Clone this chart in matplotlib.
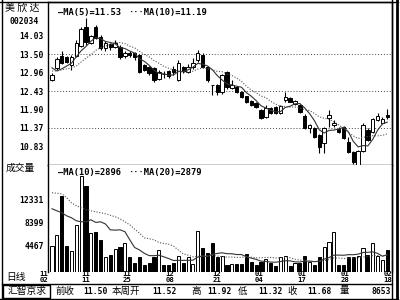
import matplotlib
matplotlib.use("Agg")
import matplotlib.pyplot as plt
import matplotlib.transforms as mtransforms
import numpy as np
import pandas as pd
from matplotlib.lines import Line2D
from matplotlib.patches import Rectangle

plt.rcParams['font.family'] = ['DejaVu Sans Mono', 'Noto Sans CJK SC']
CJK = ['Noto Sans CJK SC', 'DejaVu Sans']

# daily candles, 11/02 .. 02/18
opens = [12.75, 13.10, 13.44, 13.41, 13.18, 13.44, 13.72, 14.29, 13.83, 14.29,
         14.00, 13.66, 13.79, 13.70, 13.71, 13.44, 13.54, 13.53, 13.47, 13.18,
         13.12, 13.09, 12.78, 12.93, 13.00, 13.08, 12.75, 13.12, 12.99, 13.12,
         13.33, 13.47, 13.12, 12.60, 12.60, 12.40, 12.98, 12.52, 12.55, 12.40,
         12.28, 12.14, 12.08, 11.88, 11.68, 11.94, 11.97, 11.79, 12.17, 12.23,
         12.05, 12.03, 11.71, 11.36, 11.36, 11.16, 10.93, 11.65, 11.45, 11.33,
         11.39, 10.96, 10.67, 10.30, 10.70, 11.30, 11.25, 11.60, 11.52, 11.74]
highs = [12.95, 13.40, 13.59, 13.45, 13.46, 13.90, 14.28, 14.54, 14.06, 14.33,
         14.05, 13.88, 13.83, 13.90, 13.76, 13.58, 13.60, 13.56, 13.50, 13.22,
         13.15, 13.12, 13.04, 13.02, 13.05, 13.15, 13.33, 13.16, 13.20, 13.38,
         13.62, 13.52, 13.15, 12.61, 12.62, 12.92, 13.00, 12.75, 12.58, 12.43,
         12.30, 12.16, 12.10, 11.92, 12.03, 11.98, 12.00, 12.02, 12.40, 12.26,
         12.16, 12.06, 11.76, 11.48, 11.40, 11.18, 11.40, 11.88, 11.60, 11.38,
         11.42, 11.10, 10.70, 10.72, 11.50, 11.36, 11.66, 11.80, 11.67, 11.92]
lows = [12.72, 13.05, 13.21, 13.25, 13.04, 13.40, 13.70, 13.76, 13.80, 13.92,
        13.62, 13.60, 13.62, 13.66, 13.37, 13.38, 13.40, 13.33, 12.96, 13.00,
        12.90, 12.69, 12.74, 12.82, 12.80, 12.90, 12.72, 12.95, 12.96, 13.08,
        13.28, 13.10, 12.70, 12.32, 12.32, 12.35, 12.50, 12.48, 12.38, 12.24,
        12.08, 12.00, 11.95, 11.62, 11.65, 11.76, 11.76, 11.76, 12.12, 12.10,
        12.02, 11.80, 11.33, 11.22, 11.08, 10.64, 10.64, 11.38, 11.38, 11.22,
        11.05, 10.64, 10.33, 10.29, 10.66, 10.98, 11.22, 11.56, 11.48, 11.62]
closes = [12.89, 13.35, 13.24, 13.27, 13.42, 13.82, 14.22, 13.86, 14.02, 13.95,
          13.66, 13.83, 13.71, 13.82, 13.40, 13.53, 13.47, 13.41, 12.99, 13.04,
          12.95, 12.75, 12.98, 12.91, 12.86, 12.97, 13.25, 13.00, 13.13, 13.24,
          13.53, 13.12, 12.75, 12.59, 12.40, 12.89, 12.55, 12.60, 12.40, 12.26,
          12.11, 12.03, 11.97, 11.65, 11.94, 11.79, 11.79, 12.00, 12.26, 12.12,
          12.14, 11.82, 11.36, 11.45, 11.10, 10.81, 11.36, 11.74, 11.50, 11.25,
          11.07, 10.67, 10.38, 10.70, 11.45, 11.02, 11.62, 11.70, 11.63, 11.68]
volumes = [4420, 6260, 13000, 4420, 3610, 8040, 16370, 14770, 6710, 6880,
           5450, 2570, 2860, 3900, 4190, 4880, 2460, 1430, 2460, 1140,
           1430, 2460, 3730, 1140, 1140, 1540, 2690, 1430, 2570, 1310,
           6890, 4020, 3260, 4880, 2470, 2690, 1140, 1310, 1220, 1310,
           3040, 1710, 1140, 1710, 2120, 1430, 970, 2470, 2690, 970,
           1430, 1430, 2690, 1710, 1140, 2470, 4300, 5160, 6780, 1140,
           1140, 2470, 2580, 2690, 4020, 2860, 4880, 2600, 1900, 3730]

# moving-average values before a full window exists
ma5_head = [13.10, 13.01, 13.07, 13.15]
ma10_head = [13.01, 13.01, 13.04, 13.07, 13.10, 13.15, 13.27, 13.38, 13.47]
vma10_head = [10800, 10450, 10110, 9590, 9250, 8730, 8560, 8560, 8900]
vma20_head = [13560, 13470, 13390, 12700, 11830, 11320, 10970, 10630, 10450, 10280,
              10110, 9940, 9680, 9420, 9070, 8560, 8040, 7300, 6600]

date_labels = [("11", "02"), ("11", "11"), ("11", "25"), ("12", "08"), ("12", "21"),
               ("01", "04"), ("01", "17"), ("01", "28"), ("02", "18")]
date_pos = [-1.71, 6.85, 15.41, 24.28, 33.89, 42.53, 51.44, 60.35, 69.14]
price_ticks = [14.03, 13.50, 12.96, 12.43, 11.90, 11.37, 10.83]
price_grid = [13.50, 12.43, 11.37]
vol_ticks = [12331, 8399, 4467]

info = [("前收", 55), ("11.50", 83), ("本周开", 112), ("11.52", 152), ("高", 191),
        ("11.92", 207), ("低", 238), ("11.32", 258), ("收", 287), ("11.68", 307),
        ("量", 340)]


def ma(values, n, head):
    out = pd.Series(values, dtype=float).rolling(n).mean().to_numpy()
    out[:len(head)] = head
    return out


def fx(px):
    return px / 400


def fy(py):
    return 1 - py / 300


x = np.arange(len(closes))
o = np.array(opens)
c = np.array(closes)
up = c >= o

fig = plt.figure(figsize=(4, 3), dpi=100)
fig.patch.set_facecolor("white")
ax = fig.add_axes([fx(48), fy(165), fx(392) - fx(48), fy(2) - fy(165)])
ax2 = fig.add_axes([fx(48), fy(271.5), fx(392) - fx(48), fy(165) - fy(271.5)])

# price panel
ax.vlines(x, lows, highs, color="black", lw=0.8, zorder=2)
body = np.maximum(np.abs(c - o), 0.012)
ax.bar(x, body, bottom=np.minimum(o, c), width=0.7,
       color=np.where(up, "white", "black"), edgecolor="black", lw=0.7, zorder=3)
ax.plot(x, ma(closes, 5, ma5_head), color="#333333", lw=0.8, zorder=4)
ax.plot(x, ma(closes, 10, ma10_head), color="#555555", lw=0.8, ls=(0, (1, 1.5)), zorder=4)
for g in price_grid:
    ax.axhline(g, color="#444444", lw=0.7, ls=(0, (1, 2)), zorder=1)
ax.set_xlim(-0.82, 69.96)
ax.set_ylim(10.292, 15.003)
ax.set_yticks(price_ticks)
ax.set_yticklabels([f"{v:.2f}" for v in price_ticks])
ax.set_xticks([])

# volume panel
ax2.bar(x, volumes, width=0.64, color=np.where(up, "white", "black"),
        edgecolor="black", lw=0.7, zorder=2)
ax2.plot(x, ma(volumes, 10, vma10_head), color="#333333", lw=0.8, zorder=3)
ax2.plot(x, ma(volumes, 20, vma20_head), color="#555555", lw=0.8, ls=(0, (1, 1.5)), zorder=3)
ax2.set_xlim(-0.82, 69.96)
ax2.set_ylim(0, 18330)
ax2.set_yticks(vol_ticks)
ax2.set_yticklabels([str(v) for v in vol_ticks])
ax2.set_xticks([])

for a in (ax, ax2):
    a.tick_params(axis="y", length=0, pad=3, labelsize=5.8)
    for lab in a.get_yticklabels():
        lab.set_fontweight("bold")
    for s in a.spines.values():
        s.set_linewidth(1.0)
        s.set_color("black")
ax2.spines["top"].set_visible(False)
ax2.spines["bottom"].set_visible(False)

# date labels: month over day
date_tr = mtransforms.blended_transform_factory(ax2.transData, fig.transFigure)
for (m, d), p in zip(date_labels, date_pos):
    ax2.text(p, fy(273.5), m, transform=date_tr, clip_on=False,
             ha="center", va="center", fontsize=5.2, fontweight="bold")
    ax2.text(p, fy(280.5), d, transform=date_tr, clip_on=False,
             ha="center", va="center", fontsize=5.2, fontweight="bold")

# headers and legends
fig.text(fx(5), fy(9), "美 欣 达", family=CJK, fontsize=7.2, va="center", ha="left")
fig.text(fx(10), fy(21.5), "002034", fontsize=5.8, fontweight="bold", va="center", ha="left")
fig.text(fx(58), fy(12.5), "—MA(5)=11.53", fontsize=6.3, fontweight="bold", va="center")
fig.text(fx(128), fy(12.5), "···MA(10)=11.19", fontsize=6.3, fontweight="bold", va="center")
fig.text(fx(6), fy(168), "成交量", family=CJK, fontsize=7, va="center", ha="left")
fig.text(fx(58), fy(172), "—MA(10)=2896", fontsize=6.3, fontweight="bold", va="center")
fig.text(fx(128), fy(172), "···MA(20)=2879", fontsize=6.3, fontweight="bold", va="center")
fig.text(fx(6), fy(277), "日线", family=CJK, fontsize=7, va="center", ha="left")

# bottom info bar
for label, px in info:
    num = label[0].isdigit()
    fig.text(fx(px), fy(291), label, family=None if num else CJK,
             fontsize=5.8 if num else 6.8, fontweight="bold" if num else "normal",
             va="center", ha="left")
fig.text(fx(391), fy(291), "8653", fontsize=5.8, fontweight="bold", va="center", ha="right")
fig.text(fx(27), fy(291), "汇智京求", family=CJK, fontsize=7, va="center", ha="center")
fig.add_artist(Rectangle((fx(3), fy(297.5)), fx(50) - fx(3), fy(284.5) - fy(297.5),
                         transform=fig.transFigure, fill=False, lw=1.0, ec="black"))

# outer frame
frame = [([1.5, 1.5], [0, 300]), ([0, 398], [1.5, 1.5]), ([0, 398], [298.5, 298.5]),
         ([1.5, 392], [284, 284]), ([392, 392], [0, 300])]
for xs, ys in frame:
    fig.add_artist(Line2D([fx(v) for v in xs], [fy(v) for v in ys],
                          transform=fig.transFigure, color="black", lw=1.0))
fig.add_artist(Line2D([fx(397), fx(397)], [0, 1], transform=fig.transFigure,
                      color="black", lw=2.0))

fig.savefig("out.png", dpi=100, facecolor="white")
